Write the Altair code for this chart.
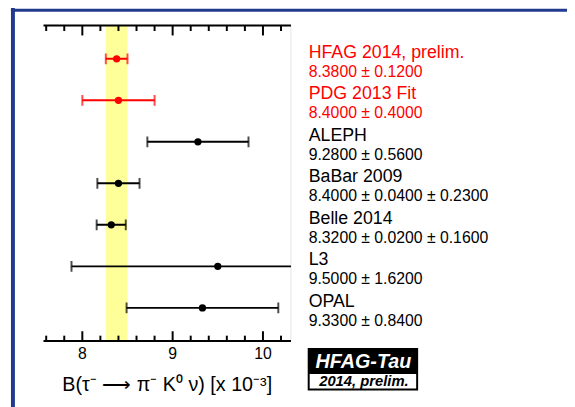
import math
import altair as alt
import pandas as pd

# ---- data ----
names = ["HFAG 2014, prelim.", "PDG 2013 Fit", "ALEPH", "BaBar 2009", "Belle 2014", "L3", "OPAL"]
values = [8.38, 8.40, 9.28, 8.40, 8.32, 9.50, 9.33]
stat_err = [0.12, 0.40, 0.56, 0.04, 0.02, 1.62, 0.84]
syst_err = [None, None, None, 0.23, 0.16, None, None]
colors = ["#ff0000", "#ff0000", "#000000", "#000000", "#000000", "#000000", "#000000"]
band = [8.26, 8.50]
major_ticks = [8, 9, 10]
minor_ticks = [7.6, 7.8, 8.2, 8.4, 8.6, 8.8, 9.2, 9.4, 9.6, 9.8, 10.2]
x_domain = [7.57, 10.31]
x_title = "B(τ⁻ ⟶ π⁻ K⁰ ν) [x 10⁻³]"

FONT = "Liberation Sans, Arial, Helvetica, sans-serif"
W, H = 251, 320

rows = []
for i, (n, v, s, y, c) in enumerate(zip(names, values, stat_err, syst_err, colors)):
    tot = math.sqrt(s ** 2 + (y or 0) ** 2)
    if y is None:
        lab = f"{v:.4f} ± {s:.4f}"
    else:
        lab = f"{v:.4f} ± {s:.4f} ± {y:.4f}"
    rows.append(dict(row=i, name=n, value=v, lo=v - tot, hi=v + tot, color=c, label=lab))
df = pd.DataFrame(rows)
caps = pd.concat([df[["row", "color"]].assign(x=df["lo"]), df[["row", "color"]].assign(x=df["hi"])])

xs = alt.Scale(domain=x_domain, nice=False, zero=False)
ys = alt.Scale(domain=[-0.8, 6.8], reverse=True, nice=False, zero=False)

one = pd.DataFrame({"a": [0]})
band_df = pd.DataFrame({"x": [band[0]], "x2": [band[1]]})
maj_df = pd.DataFrame({"x": major_ticks, "t": [str(t) for t in major_ticks]})
min_df = pd.DataFrame({"x": minor_ticks})

yellow = alt.Chart(band_df).mark_rect(color="#ffff99").encode(
    x=alt.X("x:Q", scale=xs, axis=None),
    x2="x2:Q",
    y=alt.value(0), y2=alt.value(H),
)

right_edge = alt.Chart(one).mark_rule(color="#e6e6e6", strokeWidth=1).encode(
    x=alt.value(W), y=alt.value(0), y2=alt.value(H))

axis_lines = alt.layer(
    alt.Chart(one).mark_rule(color="black", strokeWidth=2).encode(
        x=alt.value(0), x2=alt.value(W), y=alt.value(0)),
    alt.Chart(one).mark_rule(color="black", strokeWidth=2).encode(
        x=alt.value(0), x2=alt.value(W), y=alt.value(H)),
)

def ticks(d, length):
    top = alt.Chart(d).mark_rule(color="black", strokeWidth=2).encode(
        x=alt.X("x:Q", scale=xs, axis=None), y=alt.value(0), y2=alt.value(length))
    bot = alt.Chart(d).mark_rule(color="black", strokeWidth=2).encode(
        x=alt.X("x:Q", scale=xs, axis=None), y=alt.value(H), y2=alt.value(H - length))
    return top + bot

tick_labels = alt.Chart(maj_df).mark_text(fontSize=16, font=FONT, color="black",
                                          align="center", baseline="alphabetic").encode(
    x=alt.X("x:Q", scale=xs, axis=None), y=alt.value(H + 18.5), text="t:N")

title = alt.Chart(one).mark_text(text=x_title, fontSize=20, font=FONT, color="black",
                                 align="center", baseline="alphabetic").encode(
    x=alt.value(W / 2), y=alt.value(H + 50.5))

bars = alt.Chart(df).mark_rule(strokeWidth=2, clip=True).encode(
    x=alt.X("lo:Q", scale=xs, axis=None), x2="hi:Q",
    y=alt.Y("row:Q", scale=ys, axis=None),
    color=alt.Color("color:N", scale=None),
)
capm = alt.Chart(caps).mark_tick(orient="vertical", size=11, thickness=2, clip=True).encode(
    x=alt.X("x:Q", scale=xs, axis=None),
    y=alt.Y("row:Q", scale=ys, axis=None),
    color=alt.Color("color:N", scale=None),
)
pts = alt.Chart(df).mark_circle(size=55, opacity=1).encode(
    x=alt.X("value:Q", scale=xs, axis=None),
    y=alt.Y("row:Q", scale=ys, axis=None),
    color=alt.Color("color:N", scale=None),
)
name_txt = alt.Chart(df).mark_text(align="left", baseline="alphabetic", fontSize=18,
                                   font=FONT, dy=-1).encode(
    x=alt.value(269), y=alt.Y("row:Q", scale=ys, axis=None),
    text="name:N", color=alt.Color("color:N", scale=None))
val_txt = alt.Chart(df).mark_text(align="left", baseline="alphabetic", fontSize=16,
                                  font=FONT, dy=18).encode(
    x=alt.value(269), y=alt.Y("row:Q", scale=ys, axis=None),
    text="label:N", color=alt.Color("color:N", scale=None))

# HFAG-Tau logo box
logo = alt.layer(
    alt.Chart(one).mark_rect(color="black").encode(
        x=alt.value(268), x2=alt.value(380), y=alt.value(327), y2=alt.value(370)),
    alt.Chart(one).mark_rect(color="white").encode(
        x=alt.value(270), x2=alt.value(378), y=alt.value(353.5), y2=alt.value(368)),
    alt.Chart(one).mark_text(text="HFAG-Tau", color="white", font=FONT, fontSize=20,
                             fontWeight="bold", fontStyle="italic", align="center",
                             baseline="alphabetic").encode(
        x=alt.value(324.5), y=alt.value(347)),
    alt.Chart(one).mark_text(text="2014, prelim.", color="black", font=FONT, fontSize=15,
                             fontWeight="bold", fontStyle="italic", align="center",
                             baseline="alphabetic").encode(
        x=alt.value(325), y=alt.value(365.5)),
)

# slide frame (blue)
frame = alt.layer(
    alt.Chart(one).mark_rule(color="#223a8e", strokeWidth=4).encode(
        x=alt.value(-31), y=alt.value(-20), y2=alt.value(390)),
    alt.Chart(one).mark_rule(color="#223a8e", strokeWidth=3).encode(
        x=alt.value(-33), x2=alt.value(540), y=alt.value(-15.5)),
)

chart = alt.layer(
    yellow, right_edge, axis_lines, ticks(maj_df, 10), ticks(min_df, 5.5),
    tick_labels, title, bars, capm, pts, name_txt, val_txt, logo, frame,
).properties(
    width=W, height=H,
    autosize=alt.AutoSizeParams(type="none"),
    padding={"left": 36, "top": 15, "right": 280, "bottom": 64},
    background="white",
).configure_view(stroke=None)

chart.save("out.html", embed_options={"renderer": "svg", "actions": False})
